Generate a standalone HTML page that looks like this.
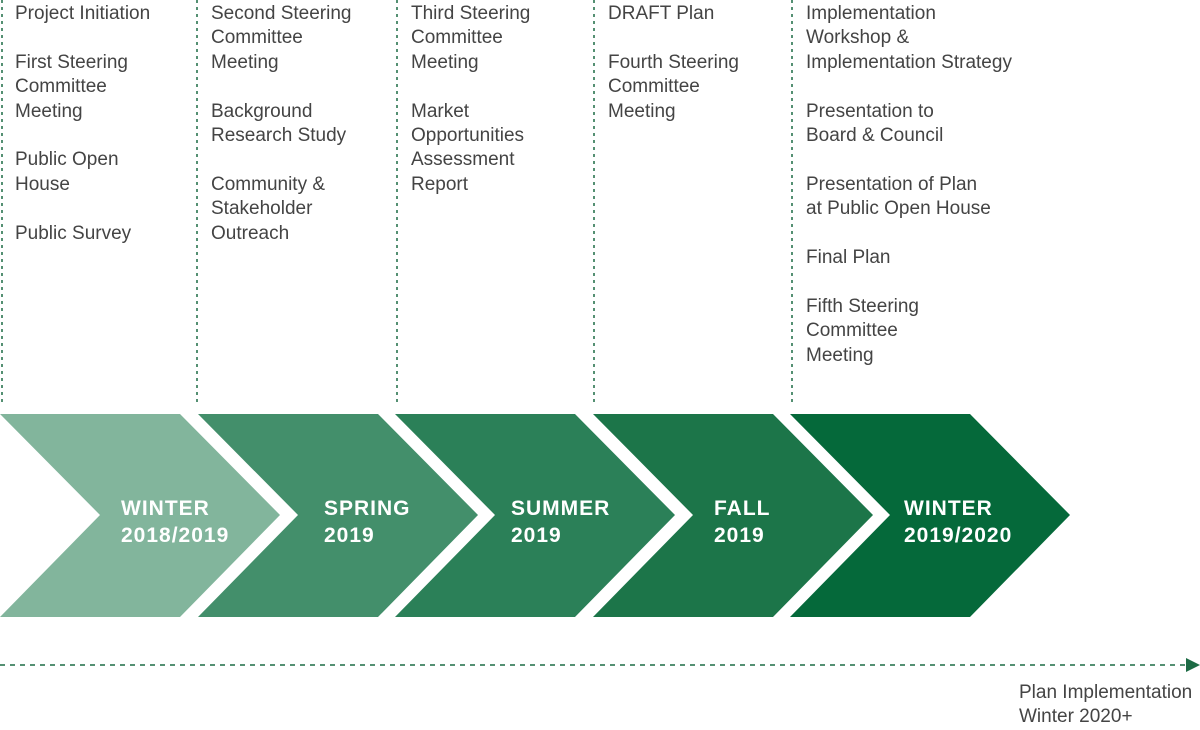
<!DOCTYPE html>
<html><head><meta charset="utf-8"><style>
body{margin:0;width:1200px;height:729px;background:#fff;position:relative;overflow:hidden;font-family:"Liberation Sans",sans-serif}
.col{position:absolute;top:2px;font-size:19px;line-height:24.4px;color:#444;white-space:pre}
.lab{position:absolute;color:#fff;font-weight:bold;font-size:21px;line-height:27px;letter-spacing:1px}
</style></head><body>
<svg width="1200" height="729" style="position:absolute;left:0;top:0">
<g stroke="#1d6b45" stroke-width="1.5" stroke-dasharray="3,4">
<line x1="2" y1="0" x2="2" y2="402"/><line x1="197" y1="0" x2="197" y2="402"/>
<line x1="397" y1="0" x2="397" y2="402"/><line x1="594" y1="0" x2="594" y2="402"/>
<line x1="792" y1="0" x2="792" y2="402"/>
<line x1="0" y1="665" x2="1188" y2="665" stroke-dasharray="5,5"/>
</g>
<polygon points="1186,658 1200,665 1186,672" fill="#1d6b45"/>
<polygon points="0,414 180,414 280,515 180,617 0,617 100,515" fill="#82b59c"/>
<polygon points="198,414 378,414 478,515 378,617 198,617 298,515" fill="#438f6b"/>
<polygon points="395,414 575,414 675,515 575,617 395,617 495,515" fill="#2b8058"/>
<polygon points="593,414 773,414 873,515 773,617 593,617 693,515" fill="#1c7549"/>
<polygon points="790,414 970,414 1070,515 970,617 790,617 890,515" fill="#05693a"/>
</svg>
<div class="col" style="left:15px">Project Initiation

First Steering
Committee
Meeting

Public Open
House

Public Survey</div>
<div class="col" style="left:211px">Second Steering
Committee
Meeting

Background
Research Study

Community &amp;
Stakeholder
Outreach</div>
<div class="col" style="left:411px">Third Steering
Committee
Meeting

Market
Opportunities
Assessment
Report</div>
<div class="col" style="left:608px">DRAFT Plan

Fourth Steering
Committee
Meeting</div>
<div class="col" style="left:806px">Implementation
Workshop &amp;
Implementation Strategy

Presentation to
Board &amp; Council

Presentation of Plan
at Public Open House

Final Plan

Fifth Steering
Committee
Meeting</div>
<div class="lab" style="left:121px;top:495px">WINTER<br>2018/2019</div>
<div class="lab" style="left:324px;top:495px">SPRING<br>2019</div>
<div class="lab" style="left:511px;top:495px">SUMMER<br>2019</div>
<div class="lab" style="left:714px;top:495px">FALL<br>2019</div>
<div class="lab" style="left:904px;top:495px">WINTER<br>2019/2020</div>
<div class="col" style="left:1019px;top:681px;font-size:19px">Plan Implementation
Winter 2020+</div>
</body></html>
